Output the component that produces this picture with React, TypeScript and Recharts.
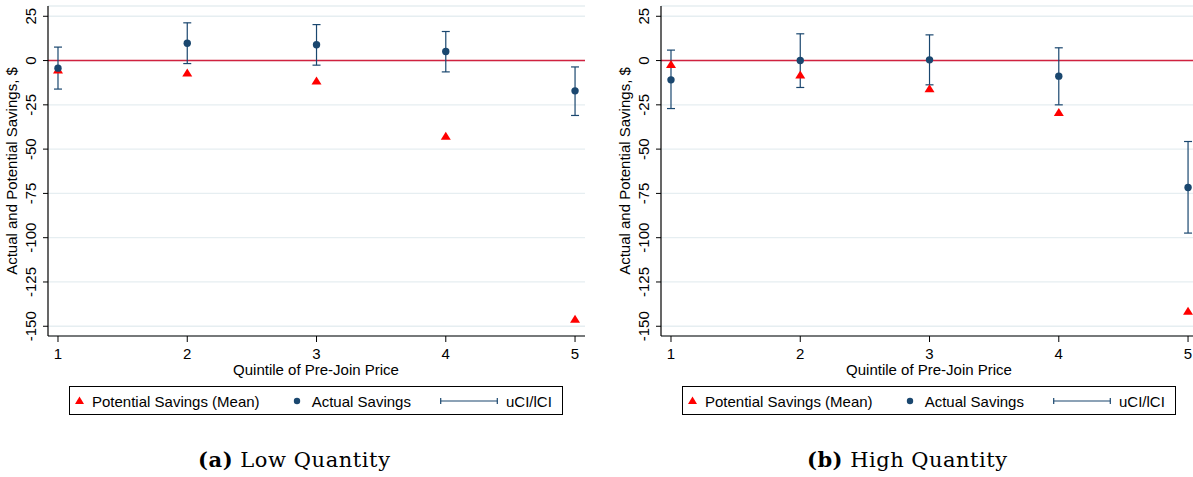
import React from 'react';
import { ComposedChart, Scatter, XAxis, YAxis, CartesianGrid, ReferenceLine, ErrorBar } from 'recharts';

const quintiles = [1, 2, 3, 4, 5];
const yTicks = [25, 0, -25, -50, -75, -100, -125, -150];

const lowPotential = [-5, -6.8, -11.3, -42.5, -145.7];
const lowActual = [-4.3, 9.8, 8.9, 5.1, -17.1];
const lowUCI = [7.6, 21.3, 20.3, 16.4, -3.6];
const lowLCI = [-16.1, -1.7, -2.6, -6.4, -31.0];

const highPotential = [-2.0, -7.9, -15.6, -29.0, -141.3];
const highActual = [-10.9, 0.0, 0.4, -8.8, -71.7];
const highUCI = [5.9, 15.1, 14.5, 7.2, -45.7];
const highLCI = [-27.1, -15.2, -13.7, -25.0, -97.4];

const SANS = '"Liberation Sans", Arial, Helvetica, sans-serif';
const SERIF = '"DejaVu Serif", serif';
const NAVY = '#1a476f';
const RED = '#ff0000';

const buildRows = (pot: number[], act: number[], u: number[], l: number[]) =>
  quintiles.map((q, i) => ({
    q,
    potential: pot[i],
    actual: act[i],
    err: [act[i] - l[i], u[i] - act[i]],
  }));

const Triangle = (props: any) => {
  const { cx, cy } = props;
  if (cx == null || cy == null) return null;
  return <polygon points={`${cx},${cy - 4} ${cx - 5},${cy + 4} ${cx + 5},${cy + 4}`} fill={RED} />;
};

const Dot = (props: any) => {
  const { cx, cy } = props;
  if (cx == null || cy == null) return null;
  return <circle cx={cx} cy={cy} r={3.7} fill={NAVY} />;
};

const YTick = (props: any) => {
  const { y, payload } = props;
  return (
    <text
      x={36}
      y={y}
      transform={`rotate(-90, 36, ${y})`}
      textAnchor="middle"
      fontSize={15}
      fontFamily={SANS}
      fill="#000"
    >
      {payload.value}
    </text>
  );
};

type PanelProps = {
  left: number;
  rows: any[];
  tag: string;
  title: string;
  capWidth: number;
};

const Panel = ({ left, rows, tag, title, capWidth }: PanelProps) => (
  <div style={{ position: 'absolute', left, top: 0, width: 600, height: 477 }}>
    <ComposedChart width={600} height={380} data={rows} margin={{ top: 6, right: 15, left: 0, bottom: 0 }}>
      <CartesianGrid horizontal vertical={false} stroke="#e6eef1" strokeWidth={1.3} />
      <XAxis
        dataKey="q"
        type="number"
        domain={[0.9227, 5.077]}
        ticks={quintiles}
        allowDataOverflow
        height={44}
        tickSize={6}
        tickMargin={6}
        axisLine={{ stroke: '#000', strokeWidth: 1.2 }}
        tickLine={{ stroke: '#000' }}
        tick={{ fontSize: 15, fontFamily: SANS, fill: '#000' }}
      />
      <YAxis
        type="number"
        domain={[-155.5, 30.8]}
        ticks={yTicks}
        allowDataOverflow
        width={48}
        tickSize={5}
        tickMargin={0}
        axisLine={{ stroke: '#000', strokeWidth: 1.2 }}
        tickLine={{ stroke: '#000' }}
        tick={<YTick />}
        interval={0}
      />
      <ReferenceLine y={0} stroke="#d0223f" strokeWidth={1.5} />
      <Scatter dataKey="potential" shape={<Triangle />} isAnimationActive={false} />
      <Scatter dataKey="actual" shape={<Dot />} isAnimationActive={false}>
        <ErrorBar dataKey="err" direction="y" width={4} stroke={NAVY} strokeWidth={1.2} />
      </Scatter>
    </ComposedChart>
    <div
      style={{
        position: 'absolute',
        left: 12 - 150,
        top: 171 - 10,
        width: 300,
        height: 20,
        lineHeight: '20px',
        textAlign: 'center',
        transform: 'rotate(-90deg)',
        fontFamily: SANS,
        fontSize: 15,
        color: '#000',
        whiteSpace: 'nowrap',
      }}
    >
      Actual and Potential Savings, $
    </div>
    <div
      style={{
        position: 'absolute',
        left: 316 - 150,
        top: 370 - 10,
        width: 300,
        height: 20,
        lineHeight: '20px',
        textAlign: 'center',
        fontFamily: SANS,
        fontSize: 15,
        color: '#000',
        whiteSpace: 'nowrap',
      }}
    >
      Quintile of Pre-Join Price
    </div>
    <svg style={{ position: 'absolute', left: 69, top: 386 }} width={495} height={30}>
      <rect x={0.5} y={0.5} width={493} height={28} fill="#fff" stroke="#000" strokeWidth={1} />
      <polygon points="10.5,10.5 6,18 15,18" fill={RED} />
      <text x={23} y={20.5} fontSize={15} fontFamily={SANS} fill="#000">Potential Savings (Mean)</text>
      <circle cx={228} cy={15} r={3.2} fill={NAVY} />
      <text x={242.7} y={20.5} fontSize={15} fontFamily={SANS} fill="#000">Actual Savings</text>
      <line x1={371.7} y1={15} x2={428.3} y2={15} stroke={NAVY} strokeWidth={1.2} />
      <line x1={371.7} y1={12} x2={371.7} y2={18} stroke={NAVY} strokeWidth={1.2} />
      <line x1={428.3} y1={12} x2={428.3} y2={18} stroke={NAVY} strokeWidth={1.2} />
      <text x={437} y={20.5} fontSize={15} fontFamily={SANS} fill="#000">uCI/lCI</text>
    </svg>
    <svg style={{ position: 'absolute', left: 0, top: 440 }} width={600} height={37}>
      <text
        x={294}
        y={27}
        textAnchor="middle"
        fontSize={21}
        fontFamily={SERIF}
        fill="#000"
        textLength={capWidth}
        lengthAdjust="spacing"
      >
        <tspan fontWeight="bold">{tag}</tspan> {title}
      </text>
    </svg>
  </div>
);

const lowRows = buildRows(lowPotential, lowActual, lowUCI, lowLCI);
const highRows = buildRows(highPotential, highActual, highUCI, highLCI);

export default function App() {
  return (
    <div style={{ position: 'relative', width: 1193, height: 477, overflow: 'hidden', background: '#fff' }}>
      <style>{'body{margin:0;}'}</style>
      <Panel left={0} rows={lowRows} tag="(a)" title="Low Quantity" capWidth={192} />
      <Panel left={613} rows={highRows} tag="(b)" title="High Quantity" capWidth={200} />
    </div>
  );
}
